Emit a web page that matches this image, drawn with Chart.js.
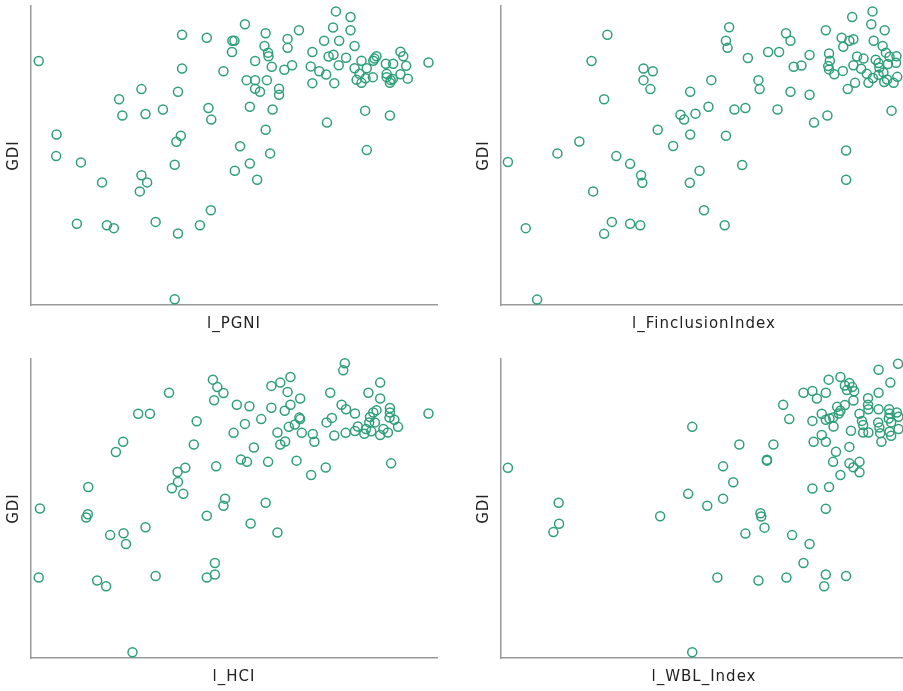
<!DOCTYPE html>
<html>
<head>
<meta charset="utf-8">
<script src="https://cdn.jsdelivr.net/npm/chart.js@4.4.1/dist/chart.umd.min.js"></script>
<style>
html, body { margin: 0; padding: 0; background: #fff; overflow: hidden; width: 903px; height: 691px; }
canvas { position: absolute; }
</style>
</head>
<body>
<canvas id="c-pgni" width="450" height="345" style="left:0;top:0"></canvas>
<canvas id="c-fin" width="450" height="345" style="left:470px;top:0"></canvas>
<canvas id="c-hci" width="450" height="345" style="left:0;top:353px"></canvas>
<canvas id="c-wbl" width="450" height="345" style="left:470px;top:353px"></canvas>
<script>
// GDI against four log-scaled indicators; no ticks in the source, values are on a 0-100 index scale.
const pgniX = [1.9,37.2,43.3,49.6,50.1,49.5,37.2,47.4,27.2,36.2,21.7,22.5,28.2,32.5,43.7,44.4,6.3,36.9,35.8,6.2,12.3,35.4,51.5,50.2,27.2,28.6,17.5,26.8,44.3,11.3,18.7,20.4,30.7,41.6,36.2,35.4,
  75.1,78.7,52.7,57.8,66,74.4,78.7,63.2,63.2,72.2,75.9,57.5,79.7,58.4,58.5,69.3,73.3,74.5,77.6,55.2,59.3,64.3,62.4,68.9,71,72.7,75.8,79.7,81.4,82.7,84.6,85.1,84.3,87.4,89.2,91,91.7,92.4,97.9,80.9,80.2,81.4,82.4,84.2,87.6,87.6,88.6,88.4,89.1,91,92.8,53.1,55.2,58.1,55.2,56.4,61.1,61.1,69.3,74.7,53.9,59.5,82.3,88.4,72.9,57.8,58.9,82.7,53.9,55.7];
const pgniY = [81.6,90.4,89.4,88.4,88.4,84.6,79.1,78.2,72.2,71.3,68.8,63.4,63.9,65.4,65.9,62,57,56.6,54.6,49.8,47.7,46.9,53.1,44.9,43.4,41,41,38,31.7,27.2,26.7,25.7,27.8,26.7,23.9,1.9,
  98.2,96.3,93.9,90.9,91.9,92.8,91.9,89,86,88.4,88.4,86.6,86.6,84.4,83.2,84.6,83.1,83.7,82.7,81.6,79.7,80.2,78.7,79.8,78.2,77.1,80.2,79.2,81.7,79.2,82.4,83.2,81.7,80.7,80.7,84.7,83.2,80,81.1,77.3,75.3,74.3,75.8,76.2,77.3,76.2,75.2,74.3,75.6,77.2,75.7,75.2,75.2,75.2,72.3,71.3,72.3,70.3,74.2,74.2,66.3,65.4,65,63.4,61,58.6,50.7,51.8,47.3,41.9];

const finX = [26.2,22.3,35.1,37.4,35.1,36.8,46.6,25.4,44.2,45.1,38.6,46.6,19.3,42.4,13.9,1.7,28.4,31.8,34.5,34.8,46.5,22.7,6.1,27.3,31.8,34.3,25.4,8.9,
  91.5,86.5,91.2,94.5,80,56.2,55.4,55.8,70.2,71.3,83.9,85.8,86.8,84.3,91.8,94,94.8,65.8,68.5,60.8,76,80.8,81,80.6,80.8,82.1,84.2,72.1,74,87.7,89.3,86.8,88.7,92.3,93,95.7,97.4,97.3,95.3,90.1,91.6,93,94.2,93.2,95.1,96.7,97.6,90.5,94.4,87.2,85.4,51.8,63.4,63.7,71.3,76,96.2,51.1,47.9,57.5,60.2,68.1,77.1,80.4,55.4,85,59.4,48.9,85,50,55.1];
const finY = [90.4,81.6,79.1,78.2,75.2,72.2,71.3,68.8,63.6,62,58.6,57,54.7,53.2,50.7,47.8,49.8,47.2,43.4,40.9,40.9,38,25.7,27.8,27.2,26.7,23.8,1.8,
  98.2,96.3,93.9,91.9,91.9,92.9,88.4,86,90.9,88.4,89.4,88.4,88.9,86.4,88.4,86.6,84.4,84.6,84.6,82.6,83.6,84.1,81.7,79.9,78.8,77.2,78.3,79.7,80.1,83.1,82.4,80.2,79,82,80.9,83,83.2,81,80.6,77.3,75.9,77,77.8,79.4,75.4,74.3,76.3,74.3,74.6,74.3,72.2,75.2,75.2,72.2,71.3,70.3,65,66.3,64,65.4,65.9,65.4,61,63.4,56.6,51.7,46.8,44.9,41.9,31.7,26.7];

const hciX = [44.8,45.9,47.4,45.1,50.7,34,26.4,29.3,40.8,49.9,22.7,20.9,40.1,51.7,45.6,38,36.1,36.2,34.7,37.5,14.1,2.2,47.8,47.4,14,13.6,43.3,28.2,19.5,22.8,23.4,45.3,45.3,43.3,1.9,16.3,18.5,30.7,25,
  77.3,76.9,63.9,59.2,61.4,63.2,73.7,86,83.1,86,53.8,59.2,62.5,63.9,66.3,56.7,52.7,60.7,61.4,62.6,63.5,65,66.1,66.3,66.7,69.4,69.8,72.8,74.1,74.7,76.5,77.6,79.8,77.5,79.8,80.5,82.1,82.5,83.5,83.3,83.8,84.3,85.1,84.7,86,86.8,87.9,88.4,88.4,88.3,89.5,90.4,97.9,54.9,53.2,58.4,65.4,69,72.6,88.7,57.8,54.1,60.7];
const hciY = [93.1,90.6,88.6,86.2,84.7,88.7,81.7,81.7,79.2,75.3,72.3,68.9,71.4,66.4,64.1,63.6,62.2,58.9,56.8,54.9,57.2,50,53.3,50.9,48.1,47,47.6,43.7,41.1,41.7,38.1,31.8,27.9,26.9,26.9,25.9,24,27.4,1.9,
  98.6,96.2,94,91,92.1,89,88.7,92.1,88.7,86.8,84.2,83.7,82.7,84.7,86.8,79.9,78.3,75.4,71.4,72.4,77.3,78.1,80.4,79.9,75.3,74.9,72.3,78.8,80.3,74.4,84.7,83.2,81.8,75.3,75.9,77.4,75,76.6,80.6,78.8,75.8,82.1,82.9,78.8,74.6,76.6,75.4,83.6,82.1,80.4,79.7,77.3,81.8,70.4,65.6,65.6,66,61.2,63.7,65.1,51.9,45,42];

const wblX = [1.7,14.2,14.3,12.9,39.2,47.1,46.1,47.1,97.8,93,95.9,80.7,83.6,84.7,85.8,86.5,87,85.2,74.5,76.7,77.8,80,93,86.8,90.4,90.4,90.5,69.5,84.7,82.8,83.2,83.6,93,95.6,95.7,97.5,97.9,95.5,96.1,79,80,80.9,81.8,81.9,71,76.7,88.3,88.9,89.2,89.2,90.5,86.2,92.9,93.2,93.4,93.7,95.7,96.1,97.9,79,77,80,85.8,82.5,81.8,85.8,86.8,88.3,88.3,83.6,58.7,67.1,65.5,65.5,54.7,57.2,54.7,50.8,76.7,80.8,80,63.9,64.1,64.9,60.2,71.7,76,74.5,53.3,63.4,70.3,80,79.6,85];
const wblY = [63.6,51.9,44.9,42.1,47.4,77.3,54.9,1.9,98.4,96.4,92.1,93.1,94,91.1,92,90.6,89.2,89.6,88.7,89.3,86.8,88.7,88.7,86.1,86.9,84.7,83.2,84.7,84.6,84,81.8,82.7,83.2,83.2,81.8,82.1,80.7,80.1,78.8,81.7,79.7,80.1,80.4,77.4,79.9,79.3,81.7,79.3,77.9,75.4,75.4,76,78.8,77.1,75.2,72.3,75.7,74.3,76.6,74.6,72.3,72.3,70.6,69,65.6,65.1,63.8,65.6,62.1,61.2,71.4,71.4,66.3,66,64.1,58.8,53.3,50.9,56.7,57.2,49.9,48.4,47.3,43.6,41.6,41.1,38.1,31.8,26.9,25.9,26.9,27.9,24,27.4];

const GREEN = '#2e9f78';
const AXIS = '#999';
const TEXT = '#222';
const FONT = 'DejaVu Sans, Verdana, sans-serif';

// canvas ctx doesn't pick up letter-spacing from CSS, set it before each draw
const spacing = { id: 'spacing', beforeDraw(c) { c.ctx.letterSpacing = '1px'; } };

function scatter(id, xLabel, xs, ys) {
    const pts = xs.map((x, i) => ({ x, y: ys[i] }));
    return new Chart(document.getElementById(id), {
        type: 'scatter',
        data: { datasets: [{
            data: pts,
            borderColor: GREEN,
            backgroundColor: 'transparent',
            pointRadius: 4.5,
            pointBorderWidth: 1.5,
            pointHoverRadius: 4.5,
            clip: false,
        }] },
        options: {
            responsive: false, animation: false, events: [],
            layout: { padding: { top: 5, right: 13, left: 0, bottom: 0 } },
            plugins: { legend: { display: false }, tooltip: { enabled: false } },
            scales: {
                x: {
                    type: 'linear', min: 0, max: 100,
                    grid: { display: false, drawTicks: false },
                    ticks: { display: false },
                    border: { display: true, color: AXIS, width: 1.5 },
                    title: { display: true, text: xLabel, color: TEXT, font: { family: FONT, size: 15 }, padding: { top: 0, bottom: 12 } },
                    afterFit: s => { s.height = 40; },
                },
                y: {
                    min: 0, max: 100,
                    grid: { display: false, drawTicks: false },
                    ticks: { display: false },
                    border: { display: true, color: AXIS, width: 1.5 },
                    title: { display: true, text: 'GDI', color: TEXT, font: { family: FONT, size: 15 }, padding: { top: 5, bottom: 0 } },
                    afterFit: s => { s.width = 31; },
                },
            },
        },
        plugins: [spacing],
    });
}

scatter('c-pgni', 'l_PGNI', pgniX, pgniY);
scatter('c-fin', 'l_FinclusionIndex', finX, finY);
scatter('c-hci', 'l_HCI', hciX, hciY);
scatter('c-wbl', 'l_WBL_Index', wblX, wblY);
</script>
</body>
</html>
